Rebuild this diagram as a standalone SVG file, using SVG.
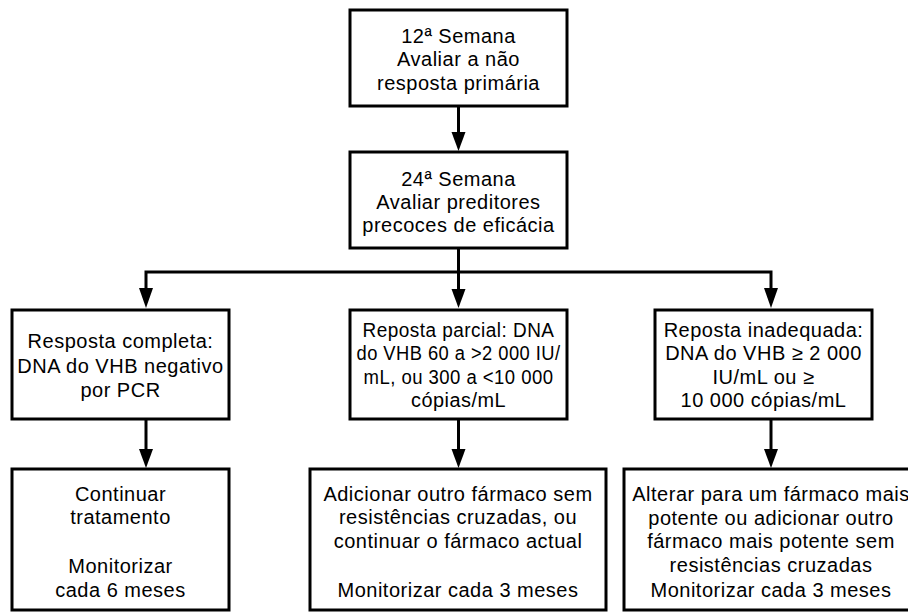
<svg xmlns="http://www.w3.org/2000/svg" width="908" height="612" viewBox="0 0 908 612">
<defs>
<style>
.box{fill:#fff;stroke:#000;stroke-width:3}
.t{font-family:"Liberation Sans",Arial,sans-serif;font-size:20px;letter-spacing:0.5px;fill:#000;text-anchor:middle}
.c{fill:none;stroke:#000;stroke-width:3}
</style>
</defs>
<rect width="908" height="612" fill="#fff"/>
<g id="connectors">
<path class="c" d="M458.5,106 V133"/>
<path d="M451.5,132 L465.5,132 L458.5,151 Z"/>
<path class="c" d="M458.5,248 V290"/>
<path d="M451.5,289 L465.5,289 L458.5,308 Z"/>
<path class="c" d="M146,289 V272 H771 V289"/>
<path d="M139,288 L153,288 L146,308 Z"/>
<path d="M764,288 L778,288 L771,308 Z"/>
<path class="c" d="M146,419 V450"/>
<path d="M139,449 L153,449 L146,468 Z"/>
<path class="c" d="M458.5,419 V450"/>
<path d="M451.5,449 L465.5,449 L458.5,468 Z"/>
<path class="c" d="M771,419 V450"/>
<path d="M764,449 L778,449 L771,468 Z"/>
</g>
<g id="n1">
<rect class="box" x="350" y="10" width="217" height="96"/>
<text class="t" x="458.5" y="43">12ª Semana</text>
<text class="t" x="458.5" y="66">Avaliar a não</text>
<text class="t" x="458.5" y="90">resposta primária</text>
</g>
<g id="n2">
<rect class="box" x="350" y="152" width="217" height="96"/>
<text class="t" x="458.5" y="186">24ª Semana</text>
<text class="t" x="458.5" y="209">Avaliar preditores</text>
<text class="t" x="458.5" y="232">precoces de eficácia</text>
</g>
<g id="n3">
<rect class="box" x="12" y="310" width="217" height="109"/>
<text class="t" x="120.5" y="348">Resposta completa:</text>
<text class="t" x="120.5" y="373">DNA do VHB negativo</text>
<text class="t" x="120.5" y="397">por PCR</text>
</g>
<g id="n4">
<rect class="box" x="350" y="310" width="217" height="109"/>
<text class="t" x="458.5" y="337" textLength="192" lengthAdjust="spacingAndGlyphs">Reposta parcial: DNA</text>
<text class="t" x="458.5" y="360" textLength="204" lengthAdjust="spacingAndGlyphs">do VHB 60 a &gt;2 000 IU/</text>
<text class="t" x="458.5" y="384" textLength="190" lengthAdjust="spacingAndGlyphs">mL, ou 300 a &lt;10 000</text>
<text class="t" x="458.5" y="407" textLength="95" lengthAdjust="spacingAndGlyphs">cópias/mL</text>
</g>
<g id="n5">
<rect class="box" x="655" y="310" width="217" height="109"/>
<text class="t" x="763.5" y="337">Reposta inadequada:</text>
<text class="t" x="763.5" y="360">DNA do VHB ≥ 2 000</text>
<text class="t" x="763.5" y="384">IU/mL ou ≥</text>
<text class="t" x="763.5" y="407">10 000 cópias/mL</text>
</g>
<g id="n6">
<rect class="box" x="12" y="469" width="217" height="141"/>
<text class="t" x="120.5" y="501">Continuar</text>
<text class="t" x="120.5" y="524">tratamento</text>
<text class="t" x="120.5" y="573">Monitorizar</text>
<text class="t" x="120.5" y="597">cada 6 meses</text>
</g>
<g id="n7">
<rect class="box" x="310" y="469" width="296" height="141"/>
<text class="t" x="458" y="501">Adicionar outro fármaco sem</text>
<text class="t" x="458" y="524">resistências cruzadas, ou</text>
<text class="t" x="458" y="548">continuar o fármaco actual</text>
<text class="t" x="458" y="597">Monitorizar cada 3 meses</text>
</g>
<g id="n8">
<rect class="box" x="624" y="469" width="300" height="141"/>
<text class="t" x="771" y="501">Alterar para um fármaco mais</text>
<text class="t" x="771" y="525">potente ou adicionar outro</text>
<text class="t" x="771" y="548">fármaco mais potente sem</text>
<text class="t" x="771" y="572">resistências cruzadas</text>
<text class="t" x="771" y="597">Monitorizar cada 3 meses</text>
</g>
</svg>
